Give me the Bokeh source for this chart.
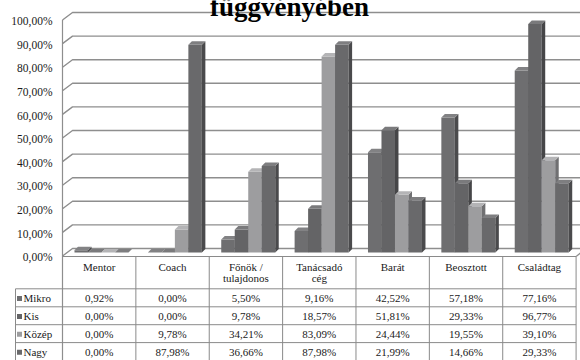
from bokeh.plotting import figure
from bokeh.models import Range1d
from bokeh.core.properties import value
from bokeh.embed import file_html
from bokeh.resources import INLINE

# ---------------- data ----------------
categories = ["Mentor", "Coach", "Főnök /\ntulajdonos", "Tanácsadó\ncég",
              "Barát", "Beosztott", "Családtag"]
series_names = ["Mikro", "Kis", "Közép", "Nagy"]
mikro = [0.92, 0.00, 5.50, 9.16, 42.52, 57.18, 77.16]
kis = [0.00, 0.00, 9.78, 18.57, 51.81, 29.33, 96.77]
kozep = [0.00, 9.78, 34.21, 83.09, 24.44, 19.55, 39.10]
nagy = [0.00, 87.98, 36.66, 87.98, 21.99, 14.66, 29.33]
y_ticks = [0, 10, 20, 30, 40, 50, 60, 70, 80, 90, 100]
title_text = "függvényében"

series_values = [mikro, kis, kozep, nagy]

# ---------------- styling / layout ----------------
W, H = 580, 360
X0_PX, PX_X = 62.0, 73.37      # pixel of category 0 left edge, px per category
Y0_PX, PX_Y = 252.0, 2.36      # pixel of bar base, px per percent
front_col = ["#6e6e70", "#646466", "#9d9d9f", "#69696b"]
side_col = ["#4b4b4d", "#464648", "#707072", "#4a4a4c"]
top_col = ["#828284", "#7a7a7c", "#b4b4b6", "#7e7e80"]
grid_col = "#8e8e8e"
tbl_col = "#8a8a8a"
txt_col = "#1a1a1a"
FONT = value("Liberation Serif")


def X(px):
    return (px - X0_PX) / PX_X


def Y(py):
    return (Y0_PX - py) / PX_Y


p = figure(width=W, height=H, x_range=Range1d(X(0), X(W)), y_range=Range1d(Y(H), Y(0)),
           output_backend="svg", toolbar_location=None, min_border=0,
           x_axis_location=None, y_axis_location=None)
p.grid.visible = False
p.outline_line_color = None
p.background_fill_color = "white"
p.border_fill_color = "white"

ddx = 3.5 / PX_X
ddy = 3.5 / PX_Y
front_off = -3.5 / PX_Y
back_off = 4.0 / PX_Y
back_dx = 10.0 / PX_X
n = len(categories)

# gridlines on side & back wall
gx, gy = [], []
for v in y_ticks:
    gx.append([0, back_dx, X(W + 10)])
    gy.append([v + front_off, v + back_off, v + back_off])
p.multi_line(gx, gy, line_color=grid_col, line_width=1.4)
# left wall edge
p.line([0, 0], [y_ticks[-1] + front_off, Y(H)], line_color=grid_col, line_width=1.2)
# floor right edge
p.line([n, n + back_dx], [Y(256), back_off], line_color=grid_col, line_width=1.2)

# y tick labels
p.text(x=[X(52)] * len(y_ticks), y=[v + front_off - 0.5 for v in y_ticks],
       text=[f"{v:.2f}".replace(".", ",") + "%" for v in y_ticks],
       text_align="right", text_baseline="middle", text_font=FONT,
       text_font_size="11.5px", text_color=txt_col)

# 3D bars
bw = 13.5 / PX_X
start = 12.0 / PX_X
for s, vals in enumerate(series_values):
    lefts = [i + start + s * bw for i in range(n)]
    rights = [l + bw for l in lefts]
    p.quad(left=lefts, right=rights, bottom=[0] * n, top=vals,
           fill_color=front_col[s], line_color=None)
    sxs = [[r, r + ddx, r + ddx, r] for r in rights]
    sys_ = [[0, ddy, v + ddy, v] for v in vals]
    p.patches(sxs, sys_, fill_color=side_col[s], line_color=None)
    txs = [[l, l + ddx, r + ddx, r] for l, r in zip(lefts, rights)]
    tys = [[v, v + ddy, v + ddy, v] for v in vals]
    p.patches(txs, tys, fill_color=top_col[s], line_color=None)

# ---------------- data table ----------------
row_edges_px = [288.3, 306.3, 324.2, 342.1, 360.0]
head_top_px = 256.0
# horizontal borders
hx, hy = [[0, n]], [[Y(head_top_px), Y(head_top_px)]]
for e in row_edges_px[:-1]:
    hx.append([X(15), n])
    hy.append([Y(e), Y(e)])
p.multi_line(hx, hy, line_color=tbl_col, line_width=1)
# vertical borders
vx, vy = [], []
for i in range(1, n + 1):
    vx.append([i, i])
    vy.append([Y(head_top_px), Y(H)])
vx.append([X(15), X(15)])
vy.append([Y(row_edges_px[0]), Y(H)])
p.multi_line(vx, vy, line_color=tbl_col, line_width=1)

# header labels
hx_t, hy_t, ht = [], [], []
for i, c in enumerate(categories):
    for k, line in enumerate(c.split("\n")):
        hx_t.append(i + 0.5)
        hy_t.append(Y(266 + 11 * k))
        ht.append(line)
p.text(x=hx_t, y=hy_t, text=ht, text_align="center", text_baseline="middle",
       text_font=FONT, text_font_size="11px", text_color=txt_col)

# values
centers_px = [(a + b) / 2 for a, b in zip(row_edges_px[:-1], row_edges_px[1:])]
vx_t, vy_t, vt = [], [], []
for s, vals in enumerate(series_values):
    for i, v in enumerate(vals):
        vx_t.append(i + 0.5)
        vy_t.append(Y(centers_px[s]))
        vt.append(f"{v:.2f}".replace(".", ",") + "%")
p.text(x=vx_t, y=vy_t, text=vt, text_align="center", text_baseline="middle",
       text_font=FONT, text_font_size="11px", text_color=txt_col)

# legend column
p.scatter(x=[X(19)] * 4, y=[Y(c) - 0.3 for c in centers_px], marker="square", size=5,
          fill_color=front_col, line_color=None)
p.text(x=[X(23)] * 4, y=[Y(c) for c in centers_px], text=series_names,
       text_align="left", text_baseline="middle", text_font=FONT,
       text_font_size="11px", text_color=txt_col)

# title (only its lower part is visible)
p.text(x=[X(289)], y=[Y(6.5)], text=[title_text], text_align="center",
       text_baseline="alphabetic", text_font=FONT, text_font_size="27px",
       text_font_style="bold", text_color="#000000")

open("out.html", "w").write(file_html(p, INLINE))
